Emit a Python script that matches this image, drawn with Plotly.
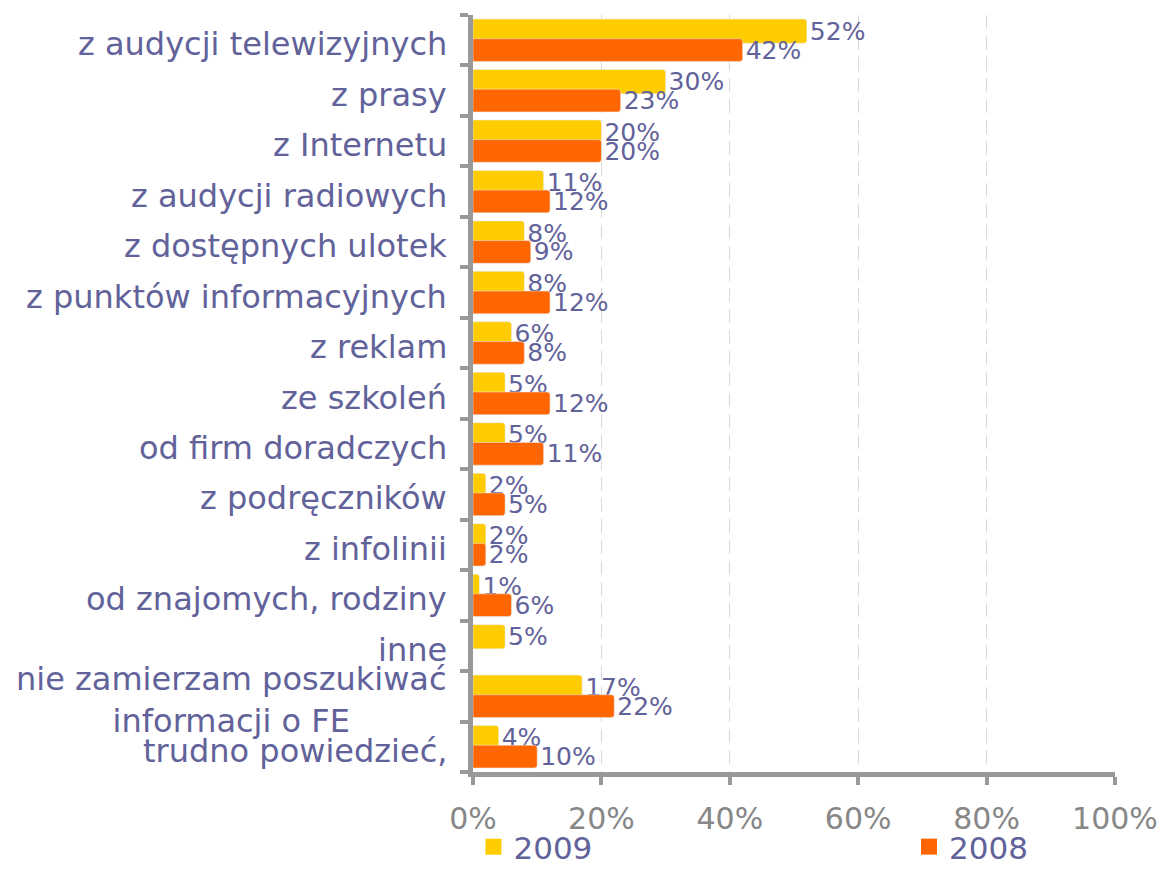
import plotly.graph_objects as go

categories = [
    "z audycji telewizyjnych",
    "z prasy",
    "z Internetu",
    "z audycji radiowych",
    "z dostępnych ulotek",
    "z punktów informacyjnych",
    "z reklam",
    "ze szkoleń",
    "od firm doradczych",
    "z podręczników",
    "z infolinii",
    "od znajomych, rodziny",
    "inne",
    "nie zamierzam poszukiwać<br>informacji o FE",
    "trudno powiedzieć,",
]
values_2009 = [52, 30, 20, 11, 8, 8, 6, 5, 5, 2, 2, 1, 5, 17, 4]
values_2008 = [42, 23, 20, 12, 9, 12, 8, 12, 11, 5, 2, 6, None, 22, 10]
x_ticks = [0, 20, 40, 60, 80, 100]
x_tick_labels = ["0%", "20%", "40%", "60%", "80%", "100%"]

YELLOW = "#FFCC00"
ORANGE = "#FF6600"
TEXT = "#62629A"
AXIS = "#999999"
FONT = "DejaVu Sans, Verdana, sans-serif"

pos = list(range(len(categories)))


def labels(vals):
    return [f"{v}%" if v is not None else "" for v in vals]


fig = go.Figure()
fig.add_trace(go.Bar(
    y=pos, x=values_2009, orientation="h", name="2009",
    marker=dict(color=YELLOW, cornerradius=3),
    width=0.48, offset=-0.42,
    text=labels(values_2009), textposition="outside", cliponaxis=False,
    constraintext="none",
    textfont=dict(family=FONT, size=25, color=TEXT),
    showlegend=False, hoverinfo="skip",
))
fig.add_trace(go.Bar(
    y=pos, x=values_2008, orientation="h", name="2008",
    marker=dict(color=ORANGE, cornerradius=3),
    width=0.45, offset=-0.03,
    text=labels(values_2008), textposition="outside", cliponaxis=False,
    constraintext="none",
    textfont=dict(family=FONT, size=25, color=TEXT),
    showlegend=False, hoverinfo="skip",
))
# legend entries (two separate legends to reproduce the wide spacing)
fig.add_trace(go.Scatter(
    x=[None], y=[None], mode="markers", name="2009", legend="legend",
    marker=dict(symbol="square", size=16, color=YELLOW),
))
fig.add_trace(go.Scatter(
    x=[None], y=[None], mode="markers", name="2008", legend="legend2",
    marker=dict(symbol="square", size=16, color=ORANGE),
))

for i, c in enumerate(categories):
    fig.add_annotation(
        x=0, xref="paper", xanchor="right", xshift=-24,
        y=i, yref="y", yshift=-4,
        text=c, showarrow=False, align="center",
        font=dict(family=FONT, size=32, color=TEXT),
    )

legend_common = dict(
    orientation="h", xref="container", yref="container",
    xanchor="left", y=0.0, yanchor="bottom",
    font=dict(family=FONT, size=31, color=TEXT),
    itemsizing="trace", bgcolor="rgba(0,0,0,0)",
)

fig.update_layout(
    width=1159, height=866,
    margin=dict(l=465, r=52, t=7, b=102, autoexpand=False),
    paper_bgcolor="white", plot_bgcolor="white",
    barmode="overlay",
    font=dict(family=FONT, color=TEXT),
    xaxis=dict(
        range=[0, 100], tickvals=x_ticks, ticktext=x_tick_labels,
        showgrid=True, gridcolor="#D9D9D9", gridwidth=1, griddash="14px,7px",
        zeroline=False, automargin=False,
        showline=True, linecolor=AXIS, linewidth=5,
        ticks="outside", ticklen=8, tickwidth=4, tickcolor=AXIS,
        tickfont=dict(family=FONT, size=30, color="#878787"),
        ticklabelstandoff=8,
    ),
    yaxis=dict(
        range=[14.5, -0.5], tickvals=pos, showticklabels=False,
        showgrid=False, zeroline=False, automargin=False,
        showline=True, linecolor=AXIS, linewidth=5,
        ticks="",
        minor=dict(tick0=-0.5, dtick=1, ticks="outside", ticklen=8,
                   tickwidth=4, tickcolor=AXIS, showgrid=False),
    ),
    legend=dict(x=0.4016, **legend_common),
    legend2=dict(x=0.7774, **legend_common),
)

fig.write_html("out.html")
